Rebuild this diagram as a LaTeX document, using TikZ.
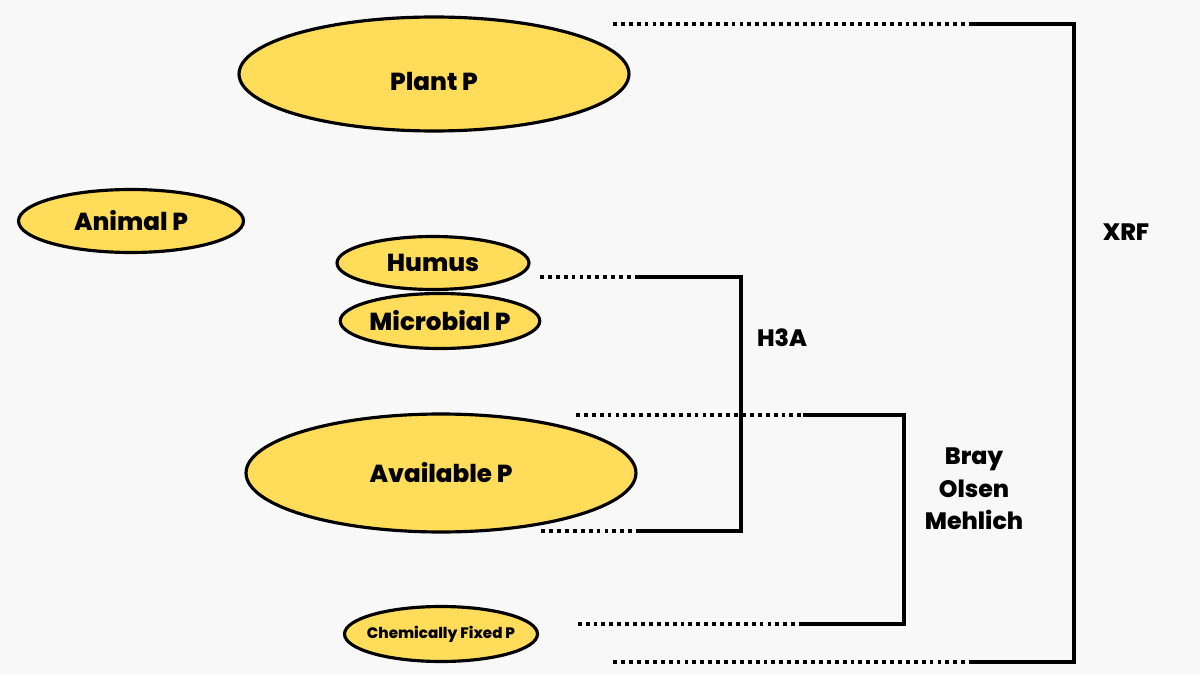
\documentclass[tikz,border=0pt]{standalone}
\usepackage{fontspec}
\setmainfont{Poppins}[BoldFont={Poppins ExtraBold}]
\usepackage{tikz}
\usetikzlibrary{shapes.geometric,positioning}
\definecolor{bgcol}{HTML}{F8F8F8}
\definecolor{pool}{HTML}{FFDC5A}

\begin{document}
\begin{tikzpicture}[x=0.02cm, y=-0.02cm,
    pool/.style={ellipse, draw, line width=1.8pt, fill=pool, inner sep=0pt, font=\fontsize{14}{16}\selectfont\bfseries},
    solid line/.style={line width=1.9pt},
    dotted line/.style={line width=2.2pt, dash pattern=on 2.2pt off 2.3pt},
    method/.style={align=center, font=\fontsize{13.5}{18.5}\selectfont\bfseries}]

    \fill[bgcol] (0,0) rectangle (1200,675);
    \useasboundingbox (0,0) rectangle (1200,675);

    \node[pool, minimum width=7.8cm, minimum height=2.28cm] (plant) at (434,74) {\raisebox{-4.5pt}[\height][\depth]{Plant P}};
    \node[pool, minimum width=4.5cm, minimum height=1.26cm] (animal) at (131,221) {Animal P};
    \node[pool, minimum width=3.84cm, minimum height=1.06cm] (humus) at (433,263) {Humus};
    \node[pool, minimum width=3.86cm, minimum height=1.1cm] (microbial) at (440,321) {Microbial P};
    \node[pool, minimum width=7.8cm, minimum height=2.36cm] (available) at (441,473) {Available P};
    \node[pool, minimum width=3.86cm, minimum height=1.1cm, font=\fontsize{8.6}{10}\selectfont\bfseries] (fixed) at (441,634) {\makebox[0pt]{Chemically Fixed P}};

    % H3A
    \coordinate (h1) at (540,277);
    \coordinate (h2) at (636,277);
    \coordinate (h3) at (741,277);
    \coordinate (h4) at (741,531);
    \coordinate (h5) at (640,531);
    \coordinate (h6) at (538,531);
    \draw[dotted line] (h1) -- (h2);
    \draw[solid line] (h2) -- (h3) -- (h4) -- (h5);
    \draw[dotted line] (h5) -- (h6);
    \node[method] (h3a) at (782,338) {H3A};

    % Bray / Olsen / Mehlich
    \coordinate (b1) at (576,415);
    \coordinate (b2) at (803,415);
    \coordinate (b3) at (904,415);
    \coordinate (b4) at (904,624);
    \coordinate (b5) at (803,624);
    \coordinate (b6) at (576,624);
    \draw[dotted line] (b1) -- (b2);
    \draw[solid line] (b2) -- (b3) -- (b4) -- (b5);
    \draw[dotted line] (b5) -- (b6);
    \node[method] (bom) at (974,489) {Bray\\Olsen\\Mehlich};

    % XRF
    \coordinate (x1) at (613,24);
    \coordinate (x2) at (973,24);
    \coordinate (x3) at (1074,24);
    \coordinate (x4) at (1074,662);
    \coordinate (x5) at (973,662);
    \coordinate (x6) at (613,662);
    \draw[dotted line] (x1) -- (x2);
    \draw[solid line] (x2) -- (x3) -- (x4) -- (x5);
    \draw[dotted line] (x5) -- (x6);
    \node[method] (xrf) at (1126,232) {XRF};

\end{tikzpicture}
\end{document}
